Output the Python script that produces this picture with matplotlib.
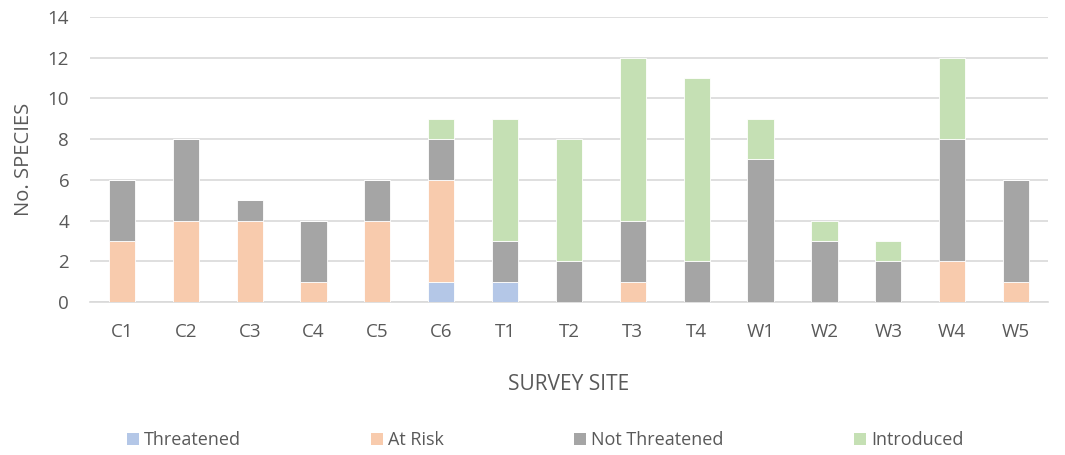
import numpy as np
import matplotlib.pyplot as plt
from matplotlib.patches import Patch

plt.rcParams['font.family'] = ['Open Sans', 'DejaVu Sans']

sites = ["C1", "C2", "C3", "C4", "C5", "C6", "T1", "T2", "T3", "T4",
         "W1", "W2", "W3", "W4", "W5"]
threatened = [0, 0, 0, 0, 0, 1, 1, 0, 0, 0, 0, 0, 0, 0, 0]
at_risk = [3, 4, 4, 1, 4, 5, 0, 0, 1, 0, 0, 0, 0, 2, 1]
not_threatened = [3, 4, 1, 3, 2, 2, 2, 2, 3, 2, 7, 3, 2, 6, 5]
introduced = [0, 0, 0, 0, 0, 1, 6, 6, 8, 9, 2, 1, 1, 4, 0]

series = [
    ("Threatened", threatened, "#B4C7E7"),
    ("At Risk", at_risk, "#F8CBAD"),
    ("Not Threatened", not_threatened, "#A5A5A5"),
    ("Introduced", introduced, "#C5E0B4"),
]

text_col = "#595959"

fig = plt.figure(figsize=(10.65, 4.55), dpi=100)
ax = fig.add_axes([0.0845, 0.336, 0.8995, 0.627])

x = np.arange(len(sites))
bottom = np.zeros(len(sites))
for name, vals, col in series:
    vals = np.array(vals, dtype=float)
    ax.bar(x, vals, 0.41, bottom=bottom, color=col, edgecolor="white",
           linewidth=0.6, zorder=3)
    bottom += vals

ax.set_xlim(-0.5, len(sites) - 0.5)
ax.set_ylim(0, 14)
ax.set_yticks(range(0, 15, 2))
ax.set_xticks(x)
ax.set_xticklabels(sites)
ax.grid(axis="y", color="#D9D9D9", linewidth=1.2, zorder=0)
for s in ["top", "right", "left"]:
    ax.spines[s].set_visible(False)
ax.spines["bottom"].set_color("#D9D9D9")
ax.spines["bottom"].set_linewidth(1.2)
ax.tick_params(axis="both", length=0, labelsize=13.5, colors=text_col)
ax.tick_params(axis="x", pad=15)
ax.tick_params(axis="y", pad=15)

ax.set_ylabel("No. SPECIES", fontsize=14.5, color=text_col, labelpad=10)
ax.set_xlabel("SURVEY SITE", fontsize=15, color=text_col, labelpad=24)

handles = [Patch(facecolor=c, label=n) for n, _, c in series]
fig.legend(handles=handles, loc="center", bbox_to_anchor=(0.512, 0.033),
           ncol=4, frameon=False, fontsize=13, handlelength=0.65,
           handleheight=0.65, handletextpad=0.3, columnspacing=7.2,
           labelcolor=text_col)

fig.savefig("out.png", dpi=100)
